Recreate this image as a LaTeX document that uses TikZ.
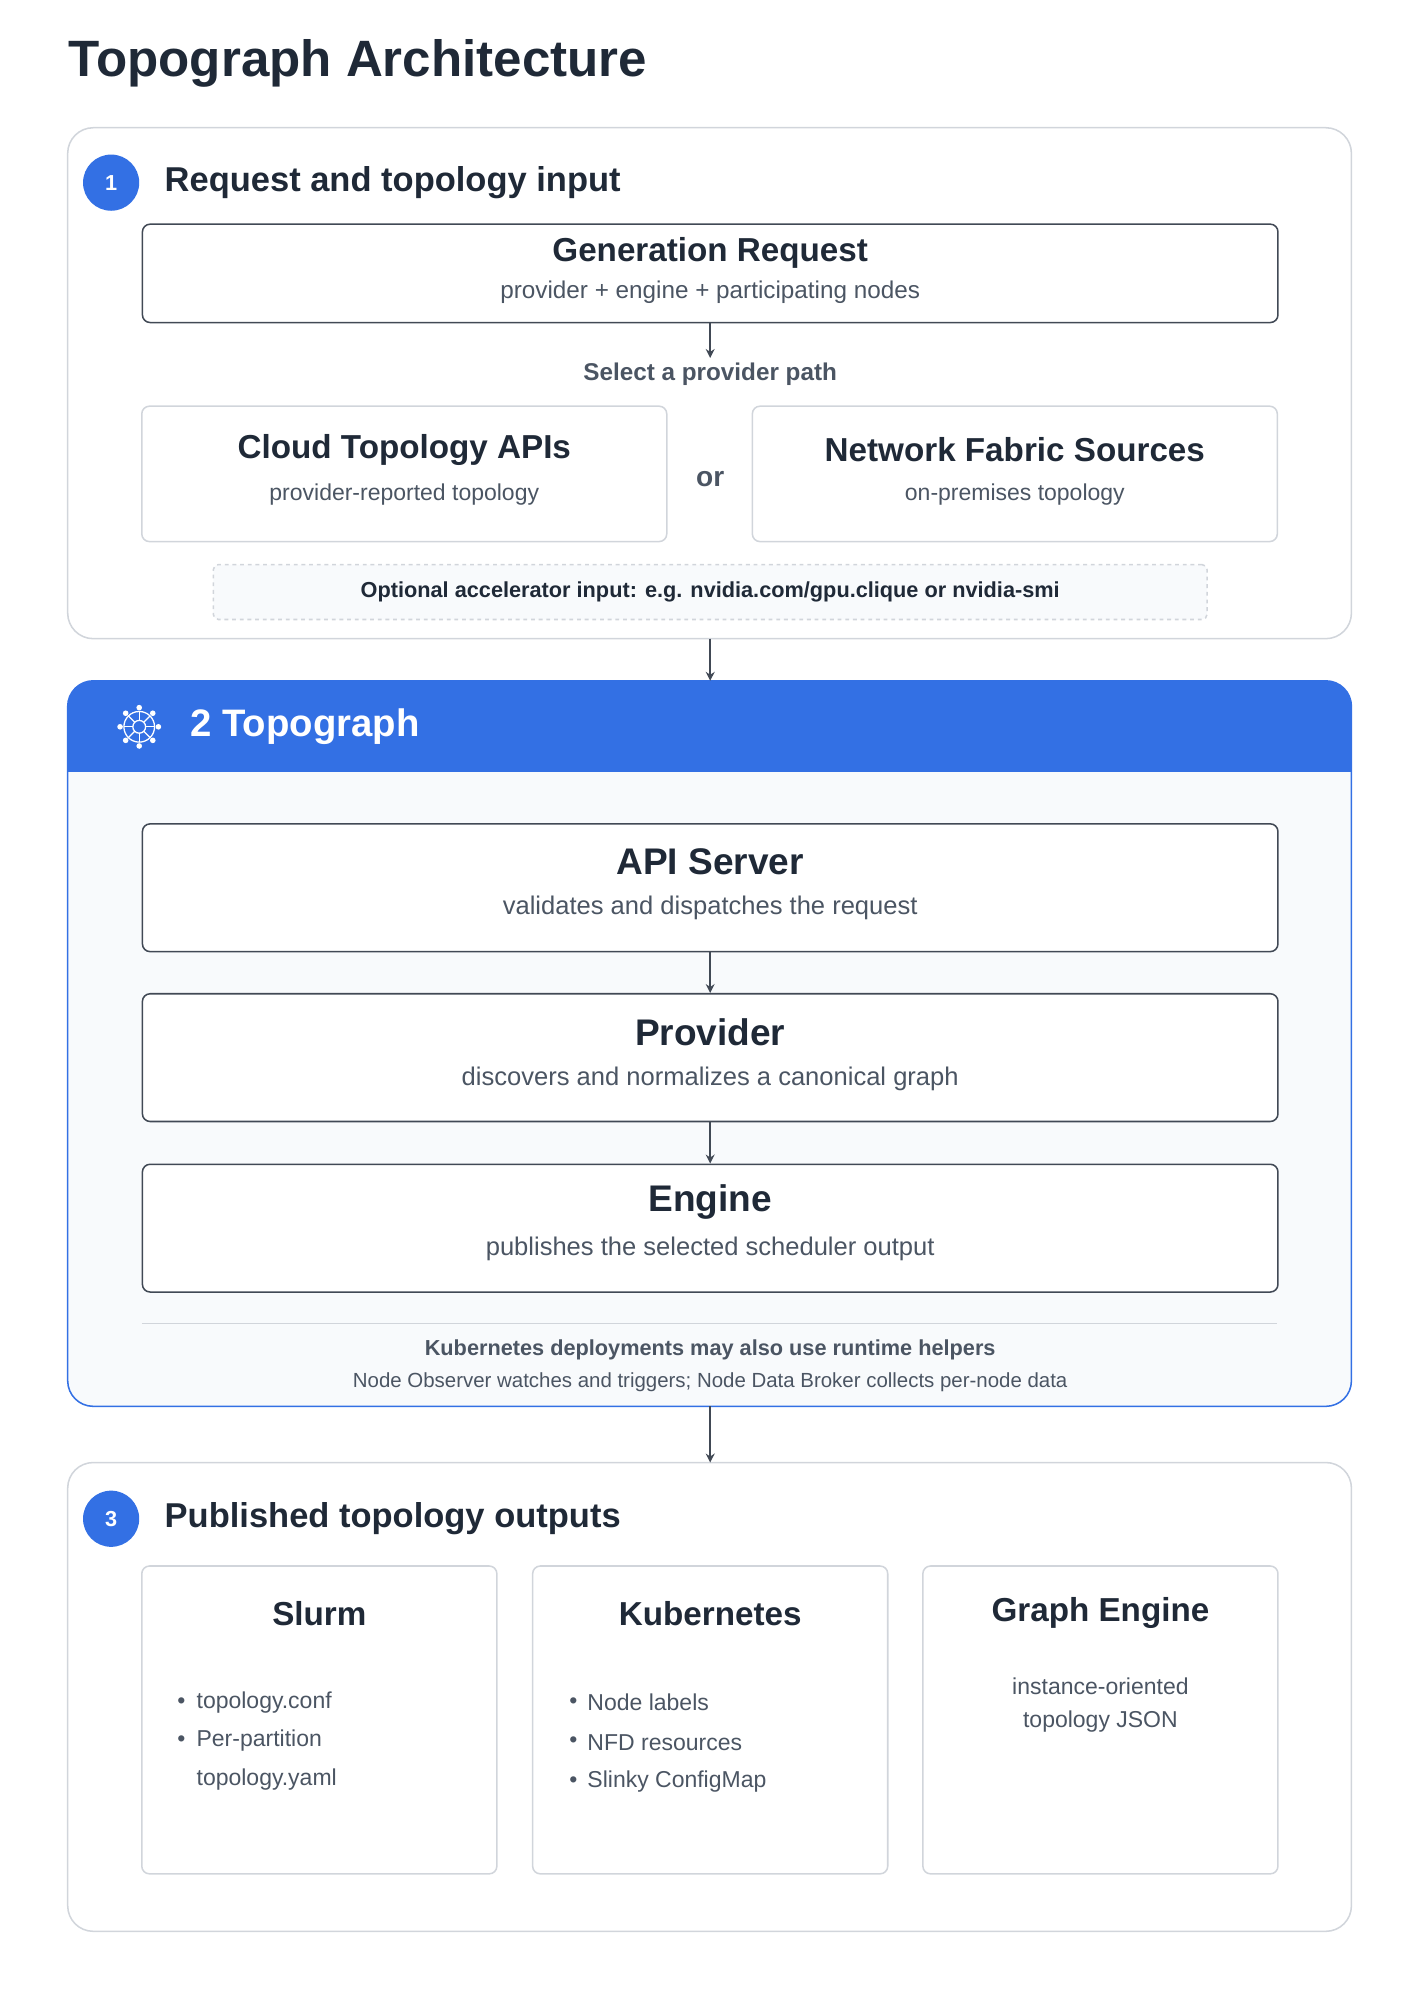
\documentclass[tikz,border=0pt]{standalone}
\usepackage{fontspec}
\setmainfont{Liberation Sans}
\usetikzlibrary{arrows.meta,positioning}
\definecolor{ink}{HTML}{1F2937}
\definecolor{sub}{HTML}{4B5563}
\definecolor{rim}{HTML}{D1D5DB}
\definecolor{brand}{HTML}{3370E4}
\definecolor{pale}{HTML}{F8FAFC}
\newcommand{\fsz}[1]{\fontsize{#1}{#1}\selectfont}
\begin{document}
\begin{tikzpicture}[x=1pt,y=-1pt,line width=1.2pt,
    >={Stealth[width=7pt,length=7pt]},
    section/.style={draw=rim,rounded corners=20pt},
    box/.style={draw=ink!85,fill=white,rounded corners=6pt,minimum width=889pt},
    softbox/.style={draw=rim,fill=white,rounded corners=6pt},
    head/.style={font=\bfseries\fsz{27},text=ink,anchor=west},
    ttl/.style={font=\bfseries\fsz{26},text=ink},
    big/.style={font=\bfseries\fsz{29},text=ink},
    desc/.style={font=\fsz{19},text=sub},
    badge/.style={circle,fill=brand,minimum size=44pt,inner sep=0pt,text=white,font=\bfseries\fsz{17}},
    flow/.style={->,draw=ink!85,line width=1.4pt}]
  \useasboundingbox (0,0) rectangle (1110,1565);
  \node[font=\bfseries\fsz{40},text=ink,anchor=west] (title) at (50,50) {Topograph Architecture};
  % section 1
  \draw[section] (53,100) rectangle (1058,500);
  \node[badge] (b1) at (87,143) {1};
  \node[head] (h1) at (125,143) {Request and topology input};
  \node[box,minimum height=77pt] (genreq) at (556,214) {};
  \node[ttl] at (556,198) {Generation Request};
  \node[desc] at (556,229) {provider + engine + participating nodes};
  \node[font=\bfseries\fsz{19},text=sub] (select) at (556,293) {Select a provider path};
  \draw[flow] (genreq.south) -- (select.north);
  \node[softbox,minimum width=411pt,minimum height=106pt] (cloud) at (316.5,371) {};
  \node[ttl] at (316.5,352) {Cloud Topology APIs};
  \node[desc,font=\fsz{18}] at (316.5,387) {provider-reported topology};
  \node[font=\bfseries\fsz{22},text=sub] (or) at (556,375) {or};
  \node[softbox,minimum width=411pt,minimum height=106pt] (fabric) at (794.5,371) {};
  \node[ttl] at (794.5,352) {Network Fabric Sources};
  \node[desc,font=\fsz{18}] at (794.5,387) {on-premises topology};
  \node[draw=rim,dashed,fill=pale,rounded corners=4pt,minimum width=778pt,minimum height=43pt,
    font=\bfseries\fsz{17},text=ink] (accel) at (556,463.5)
    {Optional accelerator input: e.g. nvidia.com/gpu.clique or nvidia-smi};
  \coordinate (s1bot) at (556,500);
  % section 2
  \fill[pale,rounded corners=20pt] (53,533) rectangle (1058,1101);
  \begin{scope}
    \clip (53,533) rectangle (1058,604);
    \fill[brand,rounded corners=20pt] (53,533) rectangle (1058,1101);
  \end{scope}
  \draw[brand,rounded corners=20pt] (53,533) rectangle (1058,1101);
  \coordinate (s2top) at (556,533);
  \draw[flow] (s1bot) -- (s2top);
  \begin{scope}[shift={(109,569)},white,line width=1pt]
    \draw (0,0) circle (12);
    \draw (0,0) circle (5);
    \foreach \a in {0,45,...,315}
      {\draw (\a:5) -- (\a:12); \fill (\a:15) circle (2.2);}
  \end{scope}
  \node[font=\bfseries\fsz{30},text=white,anchor=west] (h2) at (145,569) {2 Topograph};
  \node[box,minimum height=100pt] (api) at (556,695) {};
  \node[big] at (556,675) {API Server};
  \node[desc,font=\fsz{20}] at (556,711) {validates and dispatches the request};
  \node[box,minimum height=100pt] (provider) at (556,828) {};
  \node[big] at (556,808) {Provider};
  \node[desc,font=\fsz{20}] at (556,845) {discovers and normalizes a canonical graph};
  \node[box,minimum height=100pt] (engine) at (556,961.5) {};
  \node[big] at (556,941) {Engine};
  \node[desc,font=\fsz{20}] at (556,978) {publishes the selected scheduler output};
  \draw[flow] (api) -- (provider);
  \draw[flow] (provider) -- (engine);
  \draw[rim,line width=0.8pt] (111,1036) -- (1000,1036);
  \node[font=\bfseries\fsz{17},text=sub] at (556,1057) {Kubernetes deployments may also use runtime helpers};
  \node[font=\fsz{16},text=sub] at (556,1082) {Node Observer watches and triggers; Node Data Broker collects per-node data};
  \coordinate (s2bot) at (556,1101);
  % section 3
  \draw[section] (53,1145) rectangle (1058,1512);
  \coordinate (s3top) at (556,1145);
  \draw[flow] (s2bot) -- (s3top);
  \node[badge] (b3) at (87,1189) {3};
  \node[head] (h3) at (125,1189) {Published topology outputs};
  \foreach \cx/\name/\lbl in {250/slurm/Slurm,556/kube/Kubernetes,861.5/graph/Graph Engine}
    {\node[softbox,minimum width=278pt,minimum height=241pt] (\name) at (\cx,1346.5) {};
     \node[ttl] at (\cx,1263) {\lbl};}
  \foreach \y/\t in {1333/topology.conf,1363/Per-partition,1393/topology.yaml}
    \node[desc,font=\fsz{18},anchor=west] at (150,\y) {\t};
  \foreach \y in {1333,1363}
    \node[desc,font=\fsz{18}] at (142,\y) {•};
  \foreach \y/\t in {1333/Node labels,1364/NFD resources,1395/Slinky ConfigMap}
    {\node[desc,font=\fsz{18},anchor=west] at (456,\y) {\t};
     \node[desc,font=\fsz{18}] at (449,\y) {•};}
  \node[desc,font=\fsz{18},align=center] at (861.5,1335) {instance-oriented\\[8pt]topology JSON};
\end{tikzpicture}
\end{document}
